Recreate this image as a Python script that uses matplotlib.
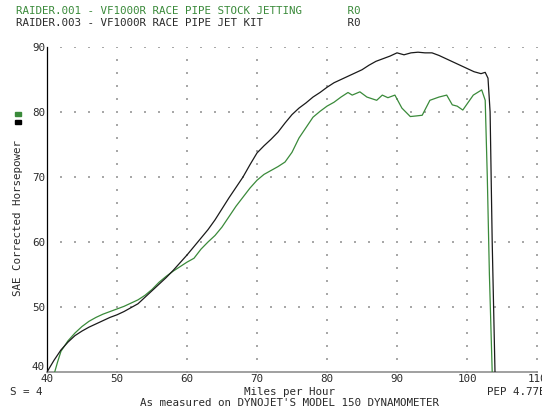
import numpy as np
import matplotlib
matplotlib.use("Agg")
import matplotlib.pyplot as plt
from matplotlib.patches import Rectangle

# RAIDER.003 - jet kit (black)
mph_jet = [40.0, 41.0, 42.0, 43.0, 44.0, 45.0, 46.0, 47.0, 48.0, 49.0,
           50.0, 51.0, 52.0, 53.0, 54.0, 55.0, 56.0, 57.0, 58.0, 59.0,
           60.0, 61.0, 62.0, 63.0, 64.0, 65.0, 66.0, 67.0, 68.0, 69.0,
           70.0, 71.0, 72.0, 73.0, 74.0, 75.0, 76.0, 77.0, 78.0, 79.0,
           80.0, 81.0, 82.0, 83.0, 84.0, 85.0, 86.0, 87.0, 88.0, 89.0,
           90.0, 91.0, 92.0, 93.0, 94.0, 95.0, 96.0, 97.0, 98.0, 99.0,
           100.0, 101.0, 102.0, 102.6, 103.0, 103.3, 103.6, 104.0]
hp_jet = [40.0, 41.8, 43.4, 44.6, 45.6, 46.3, 46.9, 47.4, 47.9, 48.4,
          48.8, 49.3, 49.9, 50.5, 51.5, 52.5, 53.5, 54.5, 55.6, 56.8,
          58.0, 59.3, 60.6, 61.9, 63.4, 65.1, 66.8, 68.4, 70.0, 71.9,
          73.7, 74.8, 75.8, 76.9, 78.3, 79.6, 80.6, 81.4, 82.3, 83.0,
          83.8, 84.5, 85.0, 85.5, 86.0, 86.5, 87.2, 87.8, 88.2, 88.6,
          89.1, 88.8, 89.1, 89.2, 89.1, 89.1, 88.7, 88.2, 87.7, 87.2,
          86.7, 86.2, 85.9, 86.1, 85.2, 80.0, 60.0, 40.0]

# RAIDER.001 - stock jetting (green)
mph_stock = [41.1, 41.5, 42.0, 43.0, 44.0, 45.0, 46.0, 47.0, 48.0, 49.0,
             50.0, 51.0, 52.0, 53.0, 54.0, 55.0, 56.0, 57.0, 58.0, 59.0,
             60.0, 61.0, 62.0, 63.0, 64.0, 65.0, 66.0, 67.0, 68.0, 69.0,
             70.0, 71.0, 72.0, 73.0, 74.0, 75.0, 76.0, 77.0, 78.0, 79.0,
             80.0, 81.0, 82.0, 83.0, 83.6, 84.7, 85.7, 87.1, 87.9, 88.7,
             89.7, 90.7, 91.9, 92.8, 93.6, 94.7, 96.0, 97.1, 97.9, 98.6,
             99.4, 100.9, 102.1, 102.6, 102.9, 103.2, 103.6]
hp_stock = [40.0, 41.5, 43.2, 44.8, 46.0, 47.0, 47.8, 48.4, 48.9, 49.3,
            49.7, 50.1, 50.6, 51.1, 51.8, 52.7, 53.8, 54.7, 55.5, 56.2,
            56.9, 57.5, 58.9, 60.0, 61.0, 62.3, 63.9, 65.5, 66.9, 68.3,
            69.5, 70.4, 71.0, 71.6, 72.3, 73.8, 76.0, 77.6, 79.2, 80.1,
            80.9, 81.5, 82.3, 83.0, 82.6, 83.1, 82.3, 81.8, 82.6, 82.2,
            82.6, 80.6, 79.3, 79.4, 79.5, 81.8, 82.3, 82.6, 81.1, 80.9,
            80.3, 82.6, 83.4, 81.8, 70.0, 55.0, 40.0]

xticks = [40, 50, 60, 70, 80, 90, 100, 110]
yticks = [40, 50, 60, 70, 80, 90]

green = "#3a8a3a"
dark = "#1a1a1a"
txt = "#2a2a2a"
mono = "DejaVu Sans Mono"
fs = 7.8

fig = plt.figure(figsize=(5.42, 4.08), dpi=100)
W, H = 542, 408
ax = fig.add_axes([47 / W, (H - 372) / H, (537 - 47) / W, (372 - 47) / H])
ax.set_xlim(40, 110)
ax.set_ylim(40, 90)

# dotted grid
gx, gy = [], []
for x in xticks[1:]:
    for y in np.arange(40, 91, 2):
        gx.append(x); gy.append(y)
for y in yticks[1:]:
    for x in np.arange(40, 111, 2):
        gx.append(x); gy.append(y)
ax.scatter(gx, gy, s=0.9, marker="s", color="#a8a8a8", linewidths=0, zorder=1)

ax.plot(mph_stock, hp_stock, color=green, lw=0.9, zorder=3)
ax.plot(mph_jet, hp_jet, color=dark, lw=0.9, zorder=4)

for s in ["top", "right"]:
    ax.spines[s].set_visible(False)
ax.spines["left"].set_color("black")
ax.spines["left"].set_linewidth(0.9)
ax.spines["bottom"].set_color("#909090")
ax.spines["bottom"].set_linewidth(1.2)

ax.set_xticks(xticks)
ax.set_yticks(yticks)
ax.set_xticklabels([str(v) for v in xticks], fontfamily=mono, fontsize=fs)
ax.set_yticklabels([str(v) for v in yticks], fontfamily=mono, fontsize=fs)
ax.tick_params(length=0, pad=1.5, colors=txt)
ax.get_yticklabels()[0].set_va("bottom")

# header lines
fig.text(15.5 / W, 1 - 11 / H,
         "RAIDER.001 - VF1000R RACE PIPE STOCK JETTING".ljust(51) + "R0",
         color=green, fontfamily=mono, fontsize=fs, va="center")
fig.text(15.5 / W, 1 - 23 / H,
         "RAIDER.003 - VF1000R RACE PIPE JET KIT".ljust(51) + "R0",
         color=txt, fontfamily=mono, fontsize=fs, va="center")

# y label and colour keys
fig.text(18 / W, 1 - 218 / H, "SAE Corrected Horsepower", rotation=90,
         fontfamily=mono, fontsize=fs, color=txt, ha="center", va="center")
fig.patches.append(Rectangle((15 / W, 1 - 116 / H), 6 / W, 4 / H,
                             transform=fig.transFigure, color=green, figure=fig))
fig.patches.append(Rectangle((15 / W, 1 - 124 / H), 6 / W, 4 / H,
                             transform=fig.transFigure, color="black", figure=fig))

# bottom texts
fig.text(10 / W, 1 - 392 / H, "S = 4", fontfamily=mono, fontsize=fs,
         color=txt, va="center")
fig.text(290 / W, 1 - 392 / H, "Miles per Hour", fontfamily=mono, fontsize=fs,
         color=txt, ha="center", va="center")
fig.text(487 / W, 1 - 392 / H, "PEP 4.77E", fontfamily=mono, fontsize=fs,
         color=txt, va="center")
fig.text(290 / W, 1 - 403 / H, "As measured on DYNOJET'S MODEL 150 DYNAMOMETER",
         fontfamily=mono, fontsize=fs, color=txt, ha="center", va="center")

fig.savefig("out.png", dpi=100)
